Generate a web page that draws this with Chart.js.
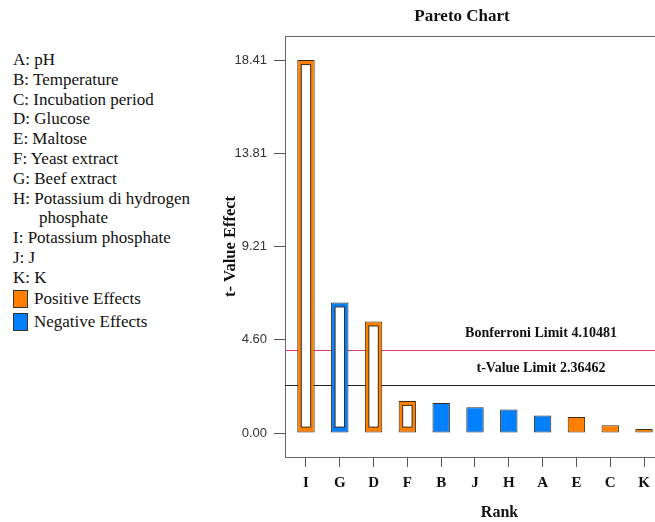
<!DOCTYPE html>
<html>
<head>
<meta charset="utf-8">
<script src="https://cdn.jsdelivr.net/npm/chart.js@4"></script>
<style>
  html, body { margin: 0; padding: 0; background: #fff; overflow: hidden; width: 655px; height: 522px; }
  #key { position: absolute; left: 13px; top: 50px; font-family: "Liberation Serif", serif; font-size: 17px; line-height: 19.8px; color: #111; }
  #key .item { width: 205px; padding-left: 26px; text-indent: -26px; white-space: normal; }
  #key .sw { display: flex; align-items: center; height: 23px; }
  #key .box { width: 13px; height: 16px; border: 1px solid #333; margin-right: 6px; }
  #wrap { position: absolute; left: 210px; top: 0; width: 504px; height: 522px; }
</style>
</head>
<body>
<div id="key"></div>
<div id="wrap"><canvas id="pareto" width="504" height="522"></canvas></div>
<script>
// factor key
const factorCodes = ['A', 'B', 'C', 'D', 'E', 'F', 'G', 'H', 'I', 'J', 'K'];
const factorNames = ['pH', 'Temperature', 'Incubation period', 'Glucose', 'Maltose', 'Yeast extract',
  'Beef extract', 'Potassium di hydrogen phosphate', 'Potassium phosphate', 'J', 'K'];

// pareto data, in rank order
const rankLabels = ['I', 'G', 'D', 'F', 'B', 'J', 'H', 'A', 'E', 'C', 'K'];
const tValues = [18.41, 6.45, 5.51, 1.59, 1.48, 1.28, 1.17, 0.87, 0.79, 0.39, 0.20];
const positive = [true, false, true, true, false, false, false, false, true, true, true];
const hollow = [true, true, true, true, false, false, false, false, false, false, false];
const yTicks = [0, 4.60, 9.21, 13.81, 18.41];
const limits = [
  { value: 4.10481, label: 'Bonferroni Limit 4.10481', color: '#e0405a' },
  { value: 2.36462, label: 't-Value Limit 2.36462', color: '#222' }
];

const ORANGE = '#ff8000';
const BLUE = '#0080ff';

// left-hand key
const key = document.getElementById('key');
factorCodes.forEach((c, i) => {
  const d = document.createElement('div');
  d.className = 'item';
  d.textContent = c + ': ' + factorNames[i];
  key.appendChild(d);
});
[['Positive Effects', ORANGE], ['Negative Effects', BLUE]].forEach(([txt, col]) => {
  const d = document.createElement('div');
  d.className = 'sw';
  d.innerHTML = `<span class="box" style="background:${col}"></span>${txt}`;
  key.appendChild(d);
});

const serifBold = (size) => ({ family: '"Liberation Serif", serif', size, weight: 'bold' });

// frame + limit lines behind the bars
const limitLines = {
  id: 'limitLines',
  beforeDatasetsDraw(chart) {
    const { ctx, chartArea: a, scales: { y } } = chart;
    ctx.save();
    limits.forEach(l => {
      const py = Math.round(y.getPixelForValue(l.value)) + 0.5;
      ctx.strokeStyle = l.color;
      ctx.lineWidth = 1;
      ctx.beginPath();
      ctx.moveTo(a.left, py);
      ctx.lineTo(a.right, py);
      ctx.stroke();
      ctx.fillStyle = '#111';
      ctx.font = 'bold 14px "Liberation Serif", serif';
      ctx.textAlign = 'center';
      ctx.textBaseline = 'middle';
      ctx.fillText(l.label, a.left + 256, py - 17);
    });
    ctx.strokeStyle = '#666';
    ctx.beginPath();
    ctx.moveTo(a.right, Math.round(a.top) + 0.5);
    ctx.lineTo(a.left, Math.round(a.top) + 0.5);
    ctx.stroke();
    ctx.restore();
  }
};

// white inner box for the hollow bars
const hollowBars = {
  id: 'hollowBars',
  afterDatasetsDraw(chart) {
    const { ctx } = chart;
    const meta = chart.getDatasetMeta(0);
    ctx.save();
    meta.data.forEach((bar, i) => {
      if (!hollow[i]) return;
      const p = bar.getProps(['x', 'y', 'base', 'width'], true);
      const l = p.x - p.width / 2 + 4, r = p.x + p.width / 2 - 4;
      const t = p.y + 4.5, b = p.base - 5.5;
      ctx.fillStyle = '#fff';
      ctx.fillRect(l, t, r - l, b - t);
      ctx.strokeStyle = '#3a2a1a';
      ctx.lineWidth = 1;
      ctx.strokeRect(l, t, r - l, b - t);
    });
    ctx.restore();
  }
};

new Chart(document.getElementById('pareto'), {
  type: 'bar',
  data: {
    datasets: [{
      data: tValues.map((v, i) => ({ x: i, y: v })),
      backgroundColor: positive.map(p => p ? ORANGE : BLUE),
      borderColor: '#3a2a1a',
      borderWidth: 1,
      borderSkipped: false,
      barPercentage: 0.515,
      categoryPercentage: 1
    }]
  },
  options: {
    responsive: false,
    animation: false,
    layout: { padding: 0 },
    plugins: {
      legend: { display: false },
      tooltip: { enabled: false },
      title: {
        display: true,
        text: 'Pareto Chart',
        color: '#111',
        font: serifBold(17),
        padding: { top: 6, bottom: 9.6 }
      }
    },
    scales: {
      x: {
        type: 'linear',
        offset: false,
        min: -0.62,
        max: 12.07,
        afterBuildTicks: s => { s.ticks = rankLabels.map((_, i) => ({ value: i })); },
        afterFit: s => { s.height = 65; },
        ticks: {
          callback: v => rankLabels[v],
          color: '#111',
          font: serifBold(15),
          padding: 7,
          maxRotation: 0,
          autoSkip: false
        },
        grid: { offset: false, drawOnChartArea: false, tickLength: 10, color: '#555' },
        border: { display: true, color: '#666' },
        title: { display: true, text: 'Rank', color: '#111', font: serifBold(16), padding: { top: 4, bottom: 0 } }
      },
      y: {
        min: -1.18,
        max: 19.6,
        afterBuildTicks: s => { s.ticks = yTicks.map(v => ({ value: v })); },
        afterFit: s => { s.width = 75; },
        ticks: {
          callback: v => v.toFixed(2),
          color: '#333',
          font: { family: '"Liberation Sans", Arial, sans-serif', size: 13 },
          padding: 7
        },
        grid: { drawOnChartArea: false, tickLength: 11, color: '#555' },
        border: { display: true, color: '#666' },
        title: { display: true, text: 't- Value Effect', color: '#111', font: serifBold(16.5), padding: { top: 11, bottom: 0 } }
      }
    }
  },
  plugins: [limitLines, hollowBars]
});
</script>
</body>
</html>
